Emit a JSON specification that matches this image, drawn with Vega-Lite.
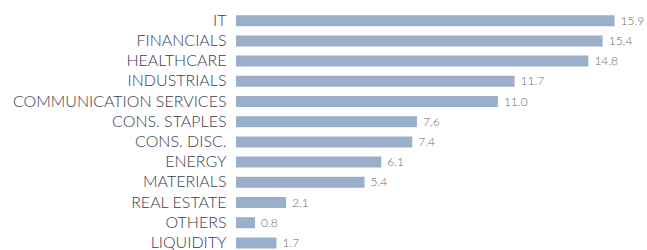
{
  "$schema": "https://vega.github.io/schema/vega-lite/v6.json",
  "width": 400,
  "height": 242.4,
  "autosize": {"type": "none"},
  "padding": {"left": 236, "top": 10.6, "right": 11, "bottom": 0},
  "background": "white",
  "config": {"view": {"stroke": null}},
  "data": {
    "values": [
      {"sector": "IT", "value": 15.9},
      {"sector": "FINANCIALS", "value": 15.4},
      {"sector": "HEALTHCARE", "value": 14.8},
      {"sector": "INDUSTRIALS", "value": 11.7},
      {"sector": "COMMUNICATION SERVICES", "value": 11.0},
      {"sector": "CONS. STAPLES", "value": 7.6},
      {"sector": "CONS. DISC.", "value": 7.4},
      {"sector": "ENERGY", "value": 6.1},
      {"sector": "MATERIALS", "value": 5.4},
      {"sector": "REAL ESTATE", "value": 2.1},
      {"sector": "OTHERS", "value": 0.8},
      {"sector": "LIQUIDITY", "value": 1.7}
    ]
  },
  "encoding": {
    "y": {
      "field": "sector",
      "type": "nominal",
      "sort": null,
      "scale": {"paddingInner": 0.455, "paddingOuter": 0.2275},
      "axis": {
        "title": null,
        "ticks": false,
        "domain": false,
        "labelPadding": 10,
        "labelFont": "Lato",
        "labelFontSize": 16,
        "labelFontWeight": 300,
        "labelColor": "#3c3c4e",
        "labelLimit": 300
      }
    },
    "x": {
      "field": "value",
      "type": "quantitative",
      "scale": {"domain": [0, 16.8]},
      "axis": null
    }
  },
  "layer": [
    {"mark": {"type": "bar", "color": "#99afca"}},
    {
      "mark": {"type": "text", "align": "left", "baseline": "middle", "dx": 6, "font": "Lato", "fontSize": 12, "fontWeight": 300, "color": "#6a6a6a"},
      "encoding": {"text": {"field": "value", "type": "quantitative", "format": ".1f"}}
    }
  ]
}
